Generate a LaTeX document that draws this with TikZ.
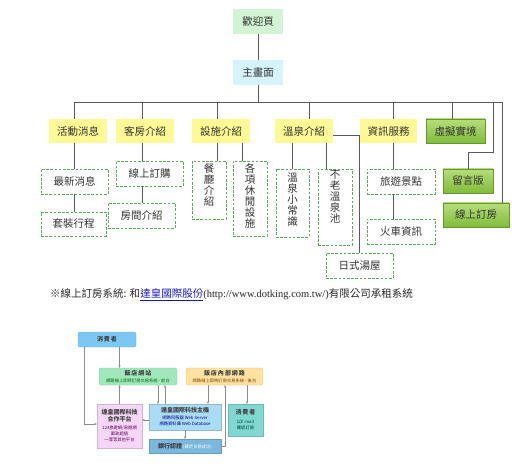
\documentclass[tikz,border=0pt]{standalone}
\usepackage{fontspec}
\setmainfont{Liberation Serif}
\newfontfamily\cjk{Noto Sans CJK TC}
\usetikzlibrary{arrows.meta,calc}
\definecolor{lnk}{RGB}{20,20,200}
\definecolor{ybox}{RGB}{253,250,150}
\definecolor{dgreen}{RGB}{90,168,90}
\definecolor{gtop}{RGB}{182,222,122}
\definecolor{gbot}{RGB}{128,188,58}
\definecolor{wel}{RGB}{208,244,212}
\definecolor{mainc}{RGB}{212,243,250}
\definecolor{cblue}{RGB}{124,200,242}
\definecolor{cgreen}{RGB}{160,232,188}
\definecolor{cyel}{RGB}{255,226,160}
\definecolor{cpink}{RGB}{246,214,246}
\definecolor{chost}{RGB}{170,220,246}
\definecolor{cbank}{RGB}{122,184,224}
\definecolor{cteal}{RGB}{128,216,208}
\newcommand\lowttl{\cjk\bfseries\fontsize{6}{6.8}\selectfont\color{black!75}}
\newcommand\lowsub[1]{\cjk\fontsize{4.3}{5.3}\selectfont\color{#1}}
\tikzset{
  conn/.style={draw=black!65, line width=0.7pt},
  arr/.style={draw=black!45, line width=0.5pt, -{Stealth[length=2.6pt,width=2.2pt]}},
  txt/.style={font=\cjk\fontsize{10.5}{11}\selectfont, text=black!80},
  topbox/.style={txt, fill=ybox, minimum height=24pt, inner sep=0pt},
  gbox/.style={txt, top color=gtop, bottom color=gbot, draw=gbot!80!black, line width=0.3pt, minimum height=24pt, inner sep=0pt},
  dbox/.style={txt, draw=dgreen, dash pattern=on 2.6pt off 1.6pt, line width=0.8pt, fill=white, inner sep=0pt},
  vtext/.style={font=\cjk\fontsize{10.5}{11}\selectfont, text=black!80, align=center, inner sep=0pt, anchor=north},
  lbox/.style={rounded corners=2pt, inner sep=0pt, align=center, draw=#1!85!black, line width=0.3pt, fill=#1, font=\cjk\fontsize{5}{6.2}\selectfont},
}
\begin{document}
\begin{tikzpicture}[x=1pt,y=-1pt]
\useasboundingbox (0,0) rectangle (512,468);
% ---------- top chart ----------
\node[txt, fill=wel, minimum width=50pt, minimum height=25pt, inner sep=0pt] (welcome) at (258,21.5) {歡迎頁};
\node[txt, fill=mainc, minimum width=50pt, minimum height=25pt, inner sep=0pt] (main) at (258,72.5) {主畫面};
\coordinate (bm) at (258,102);
\coordinate (b1) at (74,102);
\coordinate (b2) at (142,102);
\coordinate (b3) at (217,102);
\coordinate (b4) at (309,102);
\coordinate (b5) at (393,102);
\coordinate (b6) at (452,102);
\coordinate (b7) at (493,102);
\coordinate (b8) at (502,102);

\node[topbox, minimum width=58pt] (act) at (78,131) {活動消息};
\node[topbox, minimum width=58pt] (room) at (145,131) {客房介紹};
\node[topbox, minimum width=58pt] (fac) at (221,131) {設施介紹};
\node[topbox, minimum width=58pt] (spring) at (304,131) {溫泉介紹};
\node[topbox, minimum width=57pt] (info) at (388.5,131) {資訊服務};
\node[gbox, minimum width=59pt] (vr) at (455.5,131) {虛擬實境};
\node[gbox, minimum width=50pt] (msg) at (468,181) {留言版};
\node[gbox, minimum width=66pt] (book) at (476,215) {線上訂房};

\node[dbox, minimum width=67pt, minimum height=25pt] (news) at (74.5,181.5) {最新消息};
\node[dbox, minimum width=65pt, minimum height=24pt] (tour) at (73.5,224) {套裝行程};
\node[dbox, minimum width=67pt, minimum height=25pt] (online) at (149.5,173.5) {線上訂購};
\node[dbox, minimum width=67pt, minimum height=25pt] (roomi) at (141.5,215.5) {房間介紹};
\node[dbox, minimum width=34pt, minimum height=58pt] (dining) at (209,190) {};
\node[vtext] (diningT) at ($(dining.north)+(0,2.5)$) {餐\\廳\\介\\紹};
\node[dbox, minimum width=34pt, minimum height=75pt] (leisure) at (250,198.5) {};
\node[vtext] (leisureT) at ($(leisure.north)+(0,3)$) {各\\項\\休\\閒\\設\\施};
\node[dbox, minimum width=33pt, minimum height=68pt] (tips) at (292.5,203) {};
\node[vtext] (tipsT) at ($(tips.north)+(0,4)$) {溫\\泉\\小\\常\\識};
\node[dbox, minimum width=34pt, minimum height=76pt] (pool) at (335,207) {};
\node[vtext] (poolT) at ($(pool.north)+(0,1.5)$) {不\\老\\溫\\泉\\池};
\node[dbox, minimum width=67pt, minimum height=25pt] (jap) at (359.5,265.5) {日式湯屋};
\node[dbox, minimum width=68pt, minimum height=25pt] (travel) at (401,181.5) {旅遊景點};
\node[dbox, minimum width=68pt, minimum height=25pt] (train) at (401,231.5) {火車資訊};

\draw[conn] (welcome) -- (main);
\draw[conn] (main) -- (bm);
\draw[conn] (b1) -- (b8);
\draw[conn] (b1) -- (b1 |- act.north);
\draw[conn] (b2) -- (b2 |- room.north);
\draw[conn] (b3) -- (b3 |- fac.north);
\draw[conn] (b4) -- (b4 |- spring.north);
\draw[conn] (b5) -- (b5 |- info.north);
\draw[conn] (b6) -- (b6 |- vr.north);
\coordinate (k7) at (493,152);
\draw[conn] (b7) -- (k7) -| (msg.north);
\draw[conn] (b8) -- (b8 |- book.north);

\draw[conn] (b1 |- act.south) -- (b1 |- news.north);
\draw[conn] (b1 |- news.south) -- (b1 |- tour.north);
\draw[conn] (b2 |- room.south) -- (b2 |- online.north);
\draw[conn] (b2 |- online.south) -- (b2 |- roomi.north);
\coordinate (f2) at (242,0);
\draw[conn] (b3 |- fac.south) -- (b3 |- dining.north);
\draw[conn] (f2 |- fac.south) -- (f2 |- leisure.north);
\coordinate (s1) at (292,0);
\coordinate (s2) at (326,0);
\coordinate (s3) at (359.5,135);
\draw[conn] (s1 |- spring.south) -- (s1 |- tips.north);
\draw[conn] (s2 |- spring.south) -- (s2 |- pool.north);
\draw[conn] (spring.east |- s3) -- (s3) -- (jap.north);
\draw[conn] (b5 |- info.south) -- (b5 |- travel.north);
\draw[conn] (b5 |- travel.south) -- (b5 |- train.north);

% ---------- footnote ----------
\node[anchor=west, inner sep=0pt, font=\fontsize{10.5}{12}\selectfont, text=black!85] (note) at (50,295)
 {{\cjk ※線上訂房系統: 和}{\cjk\color{lnk}\underline{達皇國際股份}}(http://www.dotking.com.tw/){\cjk 有限公司承租系統}};

% ---------- lower diagram ----------
\node[lbox=cblue, minimum width=58pt, minimum height=15pt] (cons1) at (107,339.5) {\lowttl 消\,費\,者};
\node[lbox=cgreen, minimum width=78pt, minimum height=17pt] (web) at (138,376.5)
 {{\lowttl 飯\,店\,網\,站}\\{\lowsub{green!40!black} 網路線上即時訂房交易系統 - 前台}};
\node[lbox=cyel, minimum width=77pt, minimum height=17pt] (intra) at (224.5,376.5)
 {{\lowttl 飯\,店\,內\,部\,網\,路}\\{\lowsub{orange!50!black} 網路線上即時訂房交易系統 - 後台}};
\node[lbox=cpink, rounded corners=0pt, minimum width=45pt, minimum height=44pt] (plat) at (119.5,426)
 {{\lowttl 達皇國際科技}\\[0.6pt]{\lowttl 合作平台}\\[1.5pt]{\lowsub{violet!70!black} 123旅遊網/易遊網}\\{\lowsub{violet!70!black} 郵政超值}\\{\lowsub{violet!70!black} 一等等其他平台}};
\node[lbox=chost, rounded corners=0pt, minimum width=72pt, minimum height=26pt] (host) at (185,417)
 {{\lowttl 達皇國際科技主機}\\[0.5pt]{\lowsub{blue!50!black} 網路伺服器 Web Server}\\{\lowsub{blue!50!black} 網路資料庫 Web Database}};
\node[lbox=cbank, rounded corners=0pt, minimum width=72pt, minimum height=14pt] (bank) at (185,446)
 {{\lowttl 銀行認證} {\lowsub{white} (確定交易成功)}};
\node[lbox=cteal, rounded corners=0pt, minimum width=35pt, minimum height=32pt] (cons2) at (245.5,420)
 {{\lowttl 消\,費\,者}\\[2.5pt]{\lowsub{teal!50!black} 以E-mail}\\{\lowsub{teal!50!black} 確認訂房}};

\coordinate (lx) at (84,424);
\coordinate (w1) at (158,0);
\coordinate (w2) at (165,0);
\coordinate (i1) at (208,0);
\coordinate (i2) at (225,446);
\coordinate (i3) at (247,0);
\coordinate (hy) at (0,420);
\draw[arr] (cons1.south -| plat.north) -- (web.north -| plat.north);
\draw[arr] (plat.north) -- (plat.north |- web.south);
\draw[arr] (cons1.south -| lx) -- (lx) -- (plat.west |- lx);
\draw[arr] (w1 |- web.south) -- (w1 |- host.north);
\draw[arr] (w2 |- host.north) -- (w2 |- web.south);
\draw[arr] (i1 |- intra.south) -- (i1 |- host.north);
\draw[arr] (bank.east |- i2) -- (i2) -- (i2 |- intra.south);
\draw[arr] (i3 |- intra.south) -- (i3 |- cons2.north);
\draw[arr] (host.west |- hy) -- (plat.east |- hy);
\draw[arr] (host.south) -- (bank.north);
\end{tikzpicture}
\end{document}
